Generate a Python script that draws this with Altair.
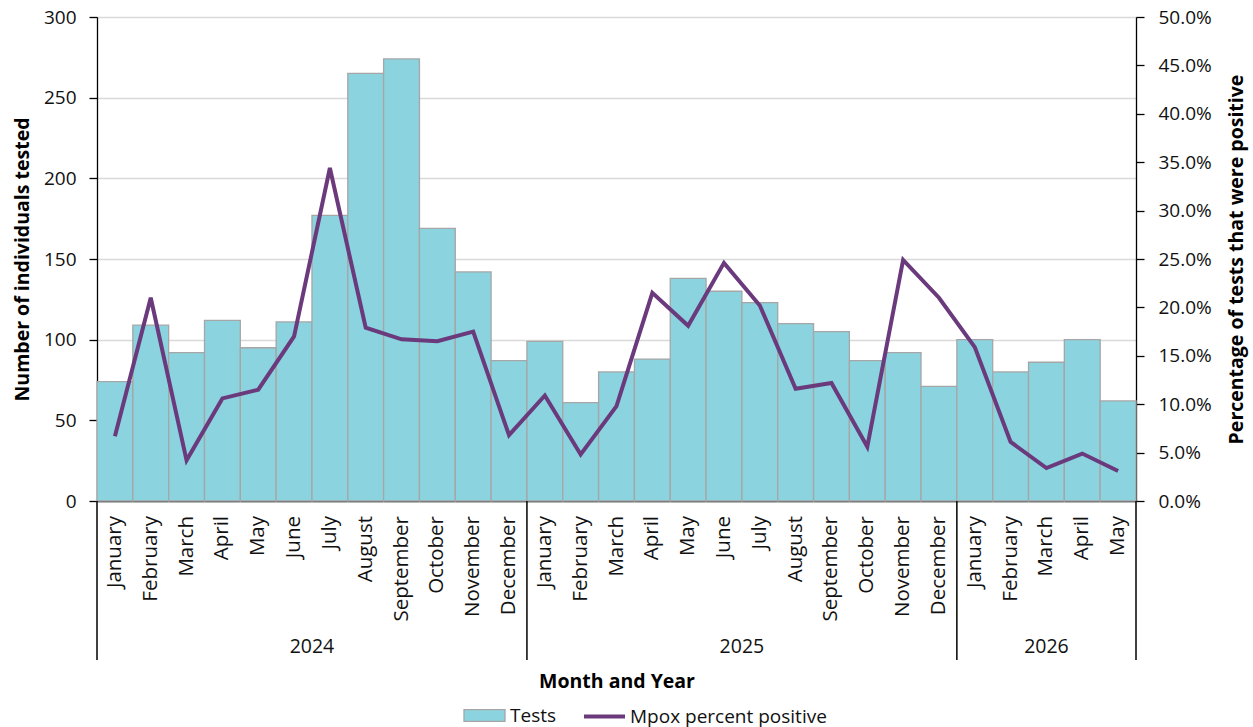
import altair as alt
import pandas as pd

# Monthly testing volume and Mpox percent positive, Jan 2024 - May 2026
month_names = ["January", "February", "March", "April", "May", "June", "July",
               "August", "September", "October", "November", "December"]
years = [2024] * 12 + [2025] * 12 + [2026] * 5
months = month_names * 2 + month_names[:5]
tests = [74, 109, 92, 112, 95, 111, 177, 265, 274, 169, 142, 87,
         99, 61, 80, 88, 138, 130, 123, 110, 105, 87, 92, 71,
         100, 80, 86, 100, 62]
pct_positive = [6.7, 21.0, 4.2, 10.6, 11.5, 17.0, 34.4, 17.9, 16.7, 16.5, 17.5, 6.8,
                10.9, 4.8, 9.8, 21.5, 18.1, 24.6, 20.2, 11.6, 12.2, 5.6, 24.9, 21.0,
                15.9, 6.1, 3.4, 4.9, 3.1]
left_ticks = [0, 50, 100, 150, 200, 250, 300]
right_ticks = [0, 0.05, 0.10, 0.15, 0.20, 0.25, 0.30, 0.35, 0.40, 0.45, 0.50]

TEAL = "#8AD3DF"
BAR_EDGE = "#A6A6A6"
PURPLE = "#6A3A7C"
FONT = "Open Sans"
TEXT = "#111111"
TITLE_SIZE = 19.5

n = len(tests)
df = pd.DataFrame({
    "x0": list(range(n)),
    "x1": [i + 1 for i in range(n)],
    "mid": [i + 0.5 for i in range(n)],
    "month": months,
    "year": years,
    "tests": tests,
    "pct": [p / 100 for p in pct_positive],
    "bar_series": ["Tests"] * n,
    "line_series": ["Mpox percent positive"] * n,
})

# year spans along the month axis
year_rows = []
for y in sorted(set(years)):
    idx = [i for i, yy in enumerate(years) if yy == y]
    year_rows.append({"year": str(y), "start": idx[0], "end": idx[-1] + 1,
                      "center": (idx[0] + idx[-1] + 1) / 2})
year_df = pd.DataFrame(year_rows)
bounds_df = pd.DataFrame({"b": sorted(set(year_df["start"]).union(year_df["end"]))})

W, H = 1039, 484
xscale = alt.Scale(domain=[0, n], nice=False, zero=False)
# one shared bottom axis: a plain domain line plus the axis title
xaxis = alt.Axis(labels=False, ticks=False, grid=False, domain=True,
                 domainColor="#000", domainWidth=1.3,
                 title="Month and Year", titleFont=FONT, titleFontSize=TITLE_SIZE,
                 titleFontWeight="bold", titleColor="#000",
                 titleY=180, titleBaseline="middle")

bars = alt.Chart(df).mark_bar(stroke=BAR_EDGE, strokeWidth=1.3).encode(
    x=alt.X("x0:Q", scale=xscale, axis=xaxis),
    x2="x1:Q",
    y=alt.Y("tests:Q", scale=alt.Scale(domain=[0, 300], nice=False),
            axis=alt.Axis(values=left_ticks, orient="left", grid=True,
                          gridColor="#D9D9D9", gridWidth=1.5,
                          domainColor="#000", domainWidth=1.3,
                          tickColor="#000", tickSize=8, tickWidth=1.3,
                          labelFont=FONT, labelFontSize=19, labelColor=TEXT,
                          labelPadding=13,
                          title="Number of individuals tested", titleFont=FONT,
                          titleFontSize=TITLE_SIZE, titleFontWeight="bold",
                          titleColor="#000",
                          titleAngle=270, titleX=-75, titleY=H / 2,
                          titleAlign="center", titleBaseline="middle")),
    y2=alt.datum(0),
    fill=alt.Fill("bar_series:N", scale=alt.Scale(domain=["Tests"], range=[TEAL]),
                  legend=alt.Legend(orient="none", legendX=366, legendY=677,
                                    title=None, padding=0, labelLimit=400,
                                    symbolType="M-1,-0.29H1V0.29H-1Z", symbolSize=1681,
                                    symbolStrokeColor=BAR_EDGE, symbolStrokeWidth=1.3,
                                    symbolFillColor=TEAL, labelOffset=4,
                                    labelFont=FONT, labelFontSize=19, labelColor=TEXT)),
)

line = alt.Chart(df).mark_line(strokeWidth=4).encode(
    x=alt.X("mid:Q", scale=xscale, axis=xaxis),
    y=alt.Y("pct:Q", scale=alt.Scale(domain=[0, 0.5], nice=False),
            axis=alt.Axis(values=right_ticks, orient="right", format=".1%", grid=False,
                          domainColor="#000", domainWidth=1.3,
                          tickColor="#000", tickSize=8, tickWidth=1.3,
                          labelFont=FONT, labelFontSize=19, labelColor=TEXT,
                          labelPadding=14,
                          title="Percentage of tests that were positive", titleFont=FONT,
                          titleFontSize=TITLE_SIZE, titleFontWeight="bold",
                          titleColor="#000",
                          titleAngle=270, titleX=100, titleY=H / 2,
                          titleAlign="center", titleBaseline="middle")),
    stroke=alt.Stroke("line_series:N",
                      scale=alt.Scale(domain=["Mpox percent positive"], range=[PURPLE]),
                      legend=alt.Legend(orient="none", legendX=485, legendY=677,
                                        title=None, padding=0, labelLimit=400,
                                        symbolType="stroke", symbolSize=1681,
                                        symbolStrokeWidth=4, labelOffset=3,
                                        labelFont=FONT, labelFontSize=19,
                                        labelColor=TEXT)),
)

month_labels = alt.Chart(df).mark_text(
    angle=270, align="right", baseline="middle", font=FONT, fontSize=20.5, color=TEXT
).encode(
    x=alt.X("mid:Q", scale=xscale, axis=xaxis),
    y=alt.value(H + 15),
    text="month:N",
)

year_labels = alt.Chart(year_df).mark_text(
    align="center", baseline="middle", font=FONT, fontSize=19.5, color=TEXT
).encode(
    x=alt.X("center:Q", scale=xscale, axis=xaxis),
    y=alt.value(H + 146),
    text="year:N",
)

separators = alt.Chart(bounds_df).mark_rule(color="#000", strokeWidth=1.5).encode(
    x=alt.X("b:Q", scale=xscale, axis=xaxis),
    y=alt.value(H),
    y2=alt.value(H + 159),
)

chart = alt.layer(bars, line, month_labels, year_labels, separators).resolve_scale(
    y="independent", fill="independent", stroke="independent"
).properties(
    width=W, height=H,
    autosize=alt.AutoSizeParams(type="none"),
    padding={"left": 97, "top": 17, "right": 117, "bottom": 226},
    background="white",
).configure_view(stroke=None)

chart.save("out.html", embed_options={"renderer": "svg", "actions": False})
